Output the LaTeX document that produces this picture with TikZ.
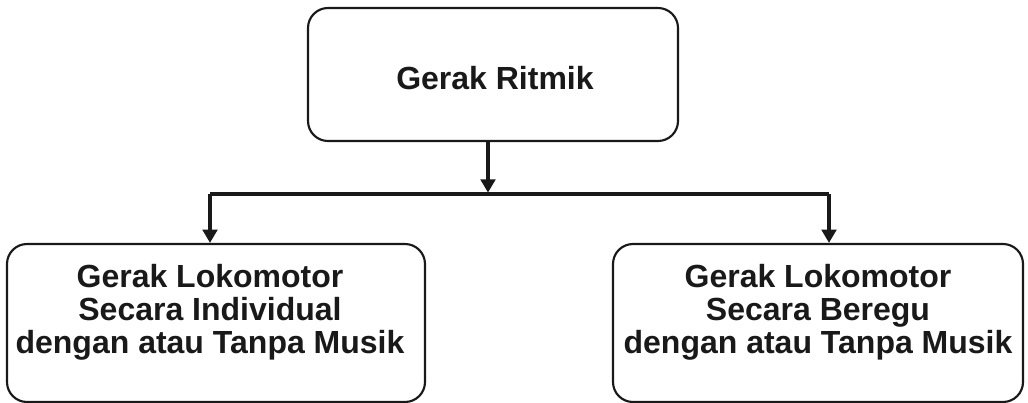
\documentclass[tikz,border=0pt]{standalone}
\usepackage{fontspec}
\setmainfont{Liberation Sans}
\usetikzlibrary{arrows.meta}

\tikzset{
    ritbox/.style={draw=black!90, line width=1.6pt, rounded corners=15pt, fill=white},
    rittext/.style={font=\bfseries\fontsize{24}{24.75}\selectfont, align=center, text=black!90},
    ritarrow/.style={line width=2.3pt, draw=black!90, -{Triangle[width=11pt,length=10pt]}},
}

\begin{document}
\begin{tikzpicture}[x=0.75pt, y=-0.75pt]
            % Frame (pixel units, y downwards)
            \useasboundingbox (0,0) rectangle (1028,403);

            % Boxes
            \node[ritbox, minimum width=277.5pt, minimum height=99.75pt] (ritmik) at (493,74.5) {};
            \node[ritbox, minimum width=313.5pt, minimum height=118.5pt] (indiv) at (216,323) {};
            \node[ritbox, minimum width=307.5pt, minimum height=118.5pt] (beregu) at (818,323) {};

            % Texts
            \node[rittext] (ritmikText) at (495,78) {Gerak Ritmik};
            \node[rittext] (indivText) at (210,312) {Gerak Lokomotor\\Secara Individual\\dengan atau Tanpa Musik};
            \node[rittext] (beregText) at (818,312) {Gerak Lokomotor\\Secara Beregu\\dengan atau Tanpa Musik};

            % Branching points
            \coordinate (split) at (488,194);
            \coordinate (splitL) at (210,194);
            \coordinate (splitR) at (829,194);

            % Connectors
            \draw[ritarrow] (ritmik.south -| split) -- ([yshift=1pt]split);
            \draw[line width=2.3pt, black!90] (splitL) -- (splitR);
            \draw[ritarrow] (splitL) -- (indiv.north -| splitL);
            \draw[ritarrow] (splitR) -- (beregu.north -| splitR);

        \end{tikzpicture}
\end{document}
